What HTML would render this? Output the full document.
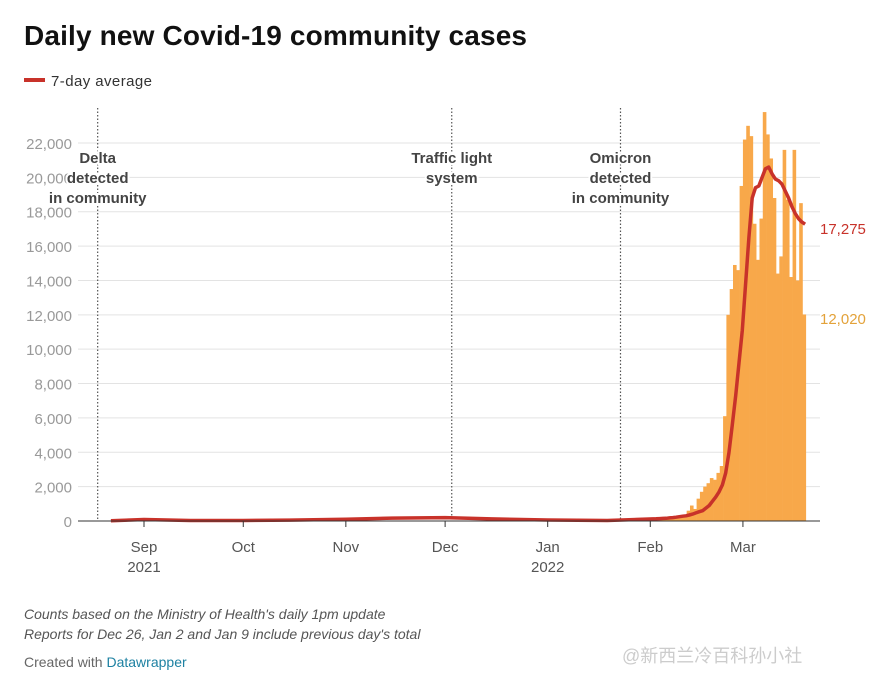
<!DOCTYPE html>
<html><head><meta charset="utf-8"><style>
body{margin:0;background:#fff;width:890px;height:675px;overflow:hidden;font-family:"Liberation Sans",sans-serif;}
</style></head><body>
<svg width="890" height="675" xmlns="http://www.w3.org/2000/svg" font-family="Liberation Sans, sans-serif">
<text x="24" y="45" font-size="28" font-weight="bold" fill="#111" textLength="503">Daily new Covid-19 community cases</text>
<g>
<line x1="24" y1="80" x2="45" y2="80" stroke="#c8322a" stroke-width="4"/>
<text x="51" y="86" font-size="15" fill="#333" textLength="101">7-day average</text>
</g>
<g id="grid"></g>
<g id="bars"></g>
<g id="annot"></g>
<path id="avg" fill="none" stroke="#c8322a" stroke-width="3.5" stroke-linejoin="round"/>
<g id="xaxis"></g>
<text x="820" y="234" font-size="15" fill="#c8322a">17,275</text>
<text x="820" y="324" font-size="15" fill="#e3a23a">12,020</text>
<text x="24" y="619" font-size="14" font-style="italic" fill="#555">Counts based on the Ministry of Health's daily 1pm update</text>
<text x="24" y="639" font-size="14" font-style="italic" fill="#555">Reports for Dec 26, Jan 2 and Jan 9 include previous day's total</text>
<text x="24" y="667" font-size="14" fill="#666">Created with <tspan fill="#1d81a2">Datawrapper</tspan></text>
<text x="622" y="662" font-size="18" fill="#ccc">@新西兰冷百科孙小社</text>
</svg>
<script>
const yTicks=[0,2000,4000,6000,8000,10000,12000,14000,16000,18000,20000,22000];
const monthLabels=["Sep","Oct","Nov","Dec","Jan","Feb","Mar"];
const monthDays=[0,30,61,91,122,153,181];
const barStartDay=153;
const barValues=[30,40,50,60,80,100,120,150,180,200,250,600,900,700,1300,1700,2000,2200,2500,2400,2800,3200,6100,12000,13500,14900,14600,19500,22200,23000,22400,17300,15200,17600,23800,22500,21100,18800,14400,15400,21600,18700,14200,21600,14000,18500,12020];
const avgEarlyDays=[-10,-4,0,14,30,44,61,75,91,105,122,140];
const avgEarlyValues=[20,60,90,30,30,50,100,170,200,120,60,30];
const avgLateValues=[120,130,140,150,160,180,200,220,250,280,300,350,400,470,540,600,750,900,1150,1400,1700,2100,2800,4000,5600,7300,9200,11100,13800,16500,18800,19400,19500,20000,20500,20600,20200,19900,19800,19600,19200,18800,18300,17900,17600,17400,17275];
const ns="http://www.w3.org/2000/svg";
const y=v=>521-v*(378/22000);
const x=d=>144+d*3.309;
function mk(t,a,p){const e=document.createElementNS(ns,t);for(const k in a)e.setAttribute(k,a[k]);p.appendChild(e);return e;}
const grid=document.getElementById('grid');
yTicks.forEach(v=>{
 if(v>0){const l=mk('line',{x1:78,x2:820,y1:y(v),y2:y(v),stroke:'#e3e3e3','stroke-width':1},grid);
 
 }
 const t=mk('text',{x:72,y:y(v)+6,'text-anchor':'end','font-size':15,fill:'#999'},grid);
 t.textContent=v.toLocaleString('en-US');
 
 
});
const bars=document.getElementById('bars');
const bw=3.309;
barValues.forEach((v,i)=>{
 const d=barStartDay+i;
 const r=mk('rect',{x:x(d),y:y(v),width:bw+0.3,height:521-y(v),fill:'#f8a84a'},bars);
 
 
});
const ann=document.getElementById('annot');
const annots=[{d:-14,lines:["Delta","detected","in community"]},{d:93,lines:["Traffic light","system"]},{d:144,lines:["Omicron","detected","in community"]}];
annots.forEach(a=>{
 const lx=x(a.d);
 const l=mk('line',{x1:lx,x2:lx,y1:108,y2:521,stroke:'#555','stroke-width':1.2,'stroke-dasharray':'1.5,2'},ann);
 
 
 a.lines.forEach((s,j)=>{
  const t=mk('text',{x:lx,y:163+j*20,'text-anchor':'middle','font-size':15,'font-weight':'bold',fill:'#444',stroke:'#fff','stroke-width':4,'paint-order':'stroke'},ann);
  t.textContent=s;
  
  
 });
});
let pts=avgEarlyDays.map((d,i)=>[x(d),y(avgEarlyValues[i])]);
avgLateValues.forEach((v,i)=>pts.push([x(barStartDay+i)+bw/2+1,y(v)]));
document.getElementById('avg').setAttribute('d','M'+pts.map(p=>p[0].toFixed(1)+','+p[1].toFixed(1)).join('L'));
const xa=document.getElementById('xaxis');
mk('line',{x1:78,x2:820,y1:521,y2:521,stroke:'#333','stroke-width':1},xa);
monthLabels.forEach((m,i)=>{
 const px=x(monthDays[i]);
 mk('line',{x1:px,x2:px,y1:521,y2:527,stroke:'#333'},xa);
 const t=mk('text',{x:px,y:552,'text-anchor':'middle','font-size':15,fill:'#555'},xa);
 t.textContent=m;
 
 
});
[[0,"2021"],[122,"2022"]].forEach(p=>{
 const t=mk('text',{x:x(p[0]),y:572,'text-anchor':'middle','font-size':15,fill:'#555'},xa);
 t.textContent=p[1];
 
 
});
</script>
</body></html>
